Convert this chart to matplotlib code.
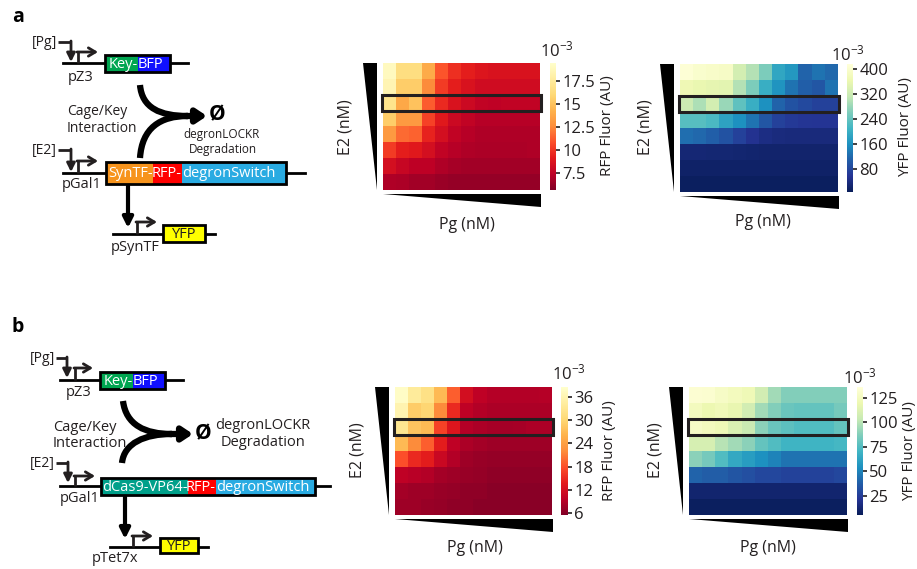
import matplotlib
matplotlib.use('Agg')
import matplotlib.pyplot as plt
import numpy as np
from matplotlib.patches import Rectangle, Polygon, PathPatch
from matplotlib.path import Path

plt.rcParams['font.family'] = ['Open Sans', 'DejaVu Sans']
plt.rcParams['mathtext.fontset'] = 'custom'
plt.rcParams['mathtext.rm'] = 'Open Sans'

W, H = 917, 569
INK = '#231f20'

# ---- heatmap data (rows: E2 high -> low, cols: Pg low -> high), units 1e3 AU
rfp_a = [
    [19.0, 16.5, 16.5, 14.0, 11.0, 9.8, 9.2, 8.8, 8.6, 8.6, 8.6, 8.6],
    [18.5, 15.5, 15.5, 12.5, 10.2, 9.2, 8.6, 8.2, 8.2, 8.2, 8.2, 8.2],
    [17.0, 13.8, 15.0, 11.2, 9.6, 8.6, 8.0, 7.6, 7.5, 7.6, 7.6, 7.6],
    [15.5, 13.2, 13.2, 10.4, 9.0, 8.0, 7.6, 7.2, 7.2, 7.2, 7.2, 7.2],
    [13.2, 11.6, 11.4, 9.4, 8.4, 7.6, 7.2, 7.0, 7.0, 7.0, 7.0, 7.0],
    [10.2, 9.2, 9.0, 8.4, 7.6, 7.2, 7.0, 6.9, 6.9, 6.9, 6.9, 7.0],
    [8.4, 7.8, 7.4, 7.4, 7.0, 6.7, 6.6, 6.6, 6.6, 6.6, 6.6, 6.6],
    [7.0, 6.9, 6.6, 6.6, 6.4, 6.2, 6.2, 6.2, 6.2, 6.2, 6.2, 6.2],
]
yfp_a = [
    [410, 400, 395, 390, 330, 300, 260, 190, 170, 115, 130, 120],
    [370, 360, 355, 350, 300, 260, 200, 165, 130, 110, 100, 130],
    [320, 295, 330, 280, 235, 200, 160, 115, 95, 85, 75, 75],
    [230, 230, 220, 185, 160, 130, 100, 75, 65, 60, 58, 58],
    [125, 120, 110, 95, 75, 55, 45, 40, 38, 38, 38, 38],
    [32, 32, 30, 30, 28, 27, 26, 26, 26, 26, 26, 26],
    [20, 20, 20, 20, 20, 20, 20, 20, 20, 20, 20, 20],
    [14, 14, 14, 14, 14, 14, 14, 14, 14, 14, 14, 14],
]
rfp_b = [
    [38.0, 34.0, 32.0, 27.0, 19.0, 12.0, 10.0, 9.2, 9.0, 9.0, 9.0, 9.2],
    [36.0, 29.0, 30.0, 22.0, 15.0, 10.0, 9.0, 8.6, 8.6, 8.6, 8.6, 8.6],
    [33.0, 28.0, 27.0, 17.0, 13.0, 9.2, 8.6, 8.2, 8.0, 8.2, 8.6, 8.6],
    [27.0, 22.0, 19.0, 14.0, 10.0, 8.6, 8.0, 7.6, 7.6, 7.6, 7.6, 7.6],
    [18.0, 15.0, 14.0, 11.0, 9.0, 7.6, 7.2, 7.0, 7.0, 7.0, 7.0, 7.0],
    [10.0, 9.5, 9.0, 8.0, 7.6, 7.2, 7.0, 6.6, 6.6, 6.6, 6.6, 6.6],
    [8.0, 7.6, 7.6, 7.2, 7.0, 6.6, 6.6, 6.2, 6.2, 6.2, 6.2, 6.2],
    [7.6, 7.6, 7.2, 7.0, 6.6, 6.6, 6.2, 6.2, 6.2, 6.2, 6.2, 6.2],
]
yfp_b = [
    [133, 132, 128, 125, 122, 108, 95, 88, 88, 88, 88, 88],
    [125, 120, 123, 118, 108, 95, 88, 82, 80, 80, 80, 85],
    [128, 125, 122, 112, 105, 90, 82, 78, 75, 75, 75, 80],
    [110, 110, 100, 95, 90, 80, 75, 70, 70, 70, 70, 72],
    [90, 85, 75, 65, 60, 55, 50, 45, 45, 45, 45, 45],
    [40, 38, 38, 35, 33, 30, 30, 28, 28, 28, 28, 30],
    [12, 12, 12, 12, 12, 12, 12, 12, 12, 12, 12, 12],
    [8, 8, 8, 8, 8, 8, 8, 8, 8, 8, 8, 8],
]

rfp_a_ticks = [7.5, 10, 12.5, 15, 17.5]
yfp_a_ticks = [80, 160, 240, 320, 400]
rfp_b_ticks = [6, 12, 18, 24, 30, 36]
yfp_b_ticks = [25, 50, 75, 100, 125]


fig = plt.figure(figsize=(W / 100, H / 100), dpi=100)


def px_axes(x0, y0, x1, y1):
    return fig.add_axes([x0 / W, 1 - y1 / H, (x1 - x0) / W, (y1 - y0) / H])


def heatmap(data, cmap, vmin, vmax, ticks, hm_box, cb_box):
    ax = px_axes(*hm_box)
    im = ax.imshow(np.array(data), cmap=cmap, vmin=vmin, vmax=vmax,
                   aspect='auto', interpolation='nearest')
    ax.set_xticks([])
    ax.set_yticks([])
    for s in ax.spines.values():
        s.set_visible(False)
    ax.add_patch(Rectangle((-0.55, 1.5), 12.1, 1.0, fill=False, lw=2.2,
                           ec=INK, clip_on=False))
    cax = px_axes(*cb_box)
    cb = fig.colorbar(im, cax=cax)
    cb.outline.set_visible(False)
    cb.set_ticks(ticks)
    cb.set_ticklabels([('%g' % t) for t in ticks])
    cax.tick_params(labelsize=12, length=3, width=1.2, pad=1.5, colors=INK)
    return ax


heatmap(rfp_a, 'YlOrRd_r', 5.6, 19.5, rfp_a_ticks, (383, 63, 540, 190), (550, 63, 556, 190))
heatmap(yfp_a, 'YlGnBu_r', 7, 415, yfp_a_ticks, (680, 64, 838, 192), (847, 64, 853, 192))
heatmap(rfp_b, 'YlOrRd_r', 5.5, 38.6, rfp_b_ticks, (395, 387, 552, 515), (561, 387, 568, 515))
heatmap(yfp_b, 'YlGnBu_r', 5.6, 136, yfp_b_ticks, (689, 387, 847, 515), (857, 387, 863, 515))

# ---- overlay for schematics and decorations (pixel coordinates)
ov = fig.add_axes([0, 0, 1, 1], facecolor='none')
ov.set_xlim(0, W)
ov.set_ylim(H, 0)
ov.axis('off')

# triangles beside heatmaps
for hx0, hy0, hx1, hy1 in [(383, 63, 540, 190), (680, 64, 838, 192),
                           (395, 387, 552, 515), (689, 387, 847, 515)]:
    ov.add_patch(Polygon([(hx0 - 20, hy0), (hx0 - 6, hy0), (hx0 - 6, hy1)],
                         closed=True, fc='k', ec='none'))
    ov.add_patch(Polygon([(hx0, hy1 + 4), (hx1 + 1, hy1 + 4), (hx1 + 1, hy1 + 17)],
                         closed=True, fc='k', ec='none'))

# axis labels
for x, y in [(345, 127), (646, 127), (358, 450), (655, 450)]:
    ov.text(x, y, 'E2 (nM)', rotation=90, ha='center', va='center', fontsize=11.5, color=INK)
for x, y in [(467, 225), (763, 222), (475, 548), (768, 548)]:
    ov.text(x, y, 'Pg (nM)', ha='center', va='center', fontsize=11.5, color=INK)
for x, y, lab in [(608, 126, 'RFP Fluor (AU)'), (906, 127, 'YFP Fluor (AU)'),
                  (609, 451, 'RFP Fluor (AU)'), (910, 451, 'YFP Fluor (AU)')]:
    ov.text(x, y, lab, rotation=90, ha='center', va='center', fontsize=11, color=INK)
for x, y in [(557, 50), (848, 54), (569, 373), (860, 377)]:
    ov.text(x, y, r'$\mathregular{10^{-3}}$', ha='center', va='center', fontsize=12, color=INK)


def inducer(label, lx, ly, x, y_line):
    ov.text(lx, ly, label, ha='right', va='center', fontsize=10, color=INK)
    ov.plot([lx + 1, x], [ly, ly], color=INK, lw=2, solid_capstyle='butt')
    ov.annotate('', xy=(x, y_line - 1), xytext=(x, ly - 1),
                arrowprops=dict(arrowstyle='-|>,head_length=0.5,head_width=0.25',
                                lw=2, color=INK, shrinkA=0, shrinkB=0))


def promoter(x, y_line, y_top, x_end):
    ov.plot([x, x], [y_line, y_top], color=INK, lw=2, solid_capstyle='butt')
    ov.annotate('', xy=(x_end, y_top), xytext=(x - 1, y_top),
                arrowprops=dict(arrowstyle='->,head_length=0.5,head_width=0.3',
                                lw=2, color=INK, shrinkA=0, shrinkB=0))


def gene_box(x0, y0, y1, parts, fs=10):
    # text of each segment butts against the next so the label reads continuously
    x = x0
    n = len(parts)
    for i, (x_end, fc, txt, tc) in enumerate(parts):
        ov.add_patch(Rectangle((x, y0), x_end - x, y1 - y0, fc=fc, ec='none', zorder=3))
        if n == 1:
            tx, ha = (x + x_end) / 2, 'center'
        elif i == n - 1:
            tx, ha = x, 'left'
        else:
            tx, ha = x_end, 'right'
        ov.text(tx, (y0 + y1) / 2 + 0.5, txt, ha=ha, va='center',
                fontsize=fs, color=tc, zorder=5)
        x = x_end
    ov.add_patch(Rectangle((x0, y0), x - x0, y1 - y0, fill=False, ec='k', lw=2, zorder=4))


def merge_arrow(top, bot, join, tip):
    for p in (top, bot):
        verts = [p[0], p[1], p[2], join]
        ov.add_patch(PathPatch(Path(verts, [Path.MOVETO, Path.CURVE4, Path.CURVE4, Path.CURVE4]),
                               fill=False, lw=4.5, ec='k', capstyle='butt'))
    ov.annotate('', xy=tip, xytext=(join[0] - 2, join[1]),
                arrowprops=dict(arrowstyle='-|>,head_length=0.6,head_width=0.4',
                                lw=4.5, color='k', shrinkA=0, shrinkB=0))


GREEN, BLUE = '#00a651', '#1010ff'
ORANGE, RED, SKY = '#f7941d', '#ff0000', '#29abe2'
TEAL, YELLOW = '#00a08a', '#ffff00'

# ---------------- panel a ----------------
ov.text(18, 17, 'a', fontsize=14, fontweight='bold', ha='center', va='center')
inducer('[Pg]', 57, 42, 71, 63)
ov.plot([63, 188], [63, 63], color='k', lw=2)
promoter(78, 63, 52, 98)
ov.text(81, 77, 'pZ3', ha='center', va='center', fontsize=10.5, color=INK)
gene_box(105, 55, 72, [(138, GREEN, 'Key-', 'w'), (170, BLUE, 'BFP', 'w')], fs=10.5)

merge_arrow([(140, 85), (142, 108), (160, 116)], [(140, 158), (142, 128), (160, 116)],
            (188, 116), (207, 116))
ov.text(217, 115, 'Ø', ha='center', va='center', fontsize=15, fontweight='bold')
ov.text(67, 111, 'Cage/Key', ha='left', va='center', fontsize=10, color=INK)
ov.text(67, 128, 'Interaction', ha='left', va='center', fontsize=10, color=INK)
ov.text(222, 134, 'degronLOCKR', ha='center', va='center', fontsize=8.5, color=INK)
ov.text(223, 149, 'Degradation', ha='center', va='center', fontsize=8.5, color=INK)

inducer('[E2]', 57, 150, 71, 173)
ov.plot([63, 305], [173, 173], color='k', lw=2)
promoter(78, 173, 161, 98)
ov.text(82, 184, 'pGal1', ha='center', va='center', fontsize=10.5, color=INK)
gene_box(106, 162, 184, [(153, ORANGE, 'SynTF-', 'w'), (182, RED, 'RFP-', 'w'),
                         (286, SKY, 'degronSwitch', 'w')], fs=10.5)
ov.annotate('', xy=(128, 228), xytext=(128, 186),
            arrowprops=dict(arrowstyle='-|>,head_length=0.6,head_width=0.3',
                            lw=3, color='k', shrinkA=0, shrinkB=0))
ov.plot([113, 215], [234, 234], color='k', lw=2)
promoter(137, 234, 222, 157)
ov.text(135, 247, 'pSynTF', ha='center', va='center', fontsize=10.5, color=INK)
gene_box(163, 225, 242, [(205, YELLOW, 'YFP', INK)], fs=10.5)

# ---------------- panel b ----------------
ov.text(18, 327, 'b', fontsize=14, fontweight='bold', ha='center', va='center')
inducer('[Pg]', 55, 358, 67, 379)
ov.plot([60, 183], [380, 380], color='k', lw=2)
promoter(75, 380, 368, 93)
ov.text(79, 392, 'pZ3', ha='center', va='center', fontsize=10.5, color=INK)
gene_box(100, 372, 389, [(133, GREEN, 'Key-', 'w'), (165, BLUE, 'BFP', 'w')], fs=10.5)

merge_arrow([(123, 401), (126, 425), (145, 434)], [(122, 463), (124, 443), (145, 434)],
            (172, 434), (193, 434))
ov.text(203, 434, 'Ø', ha='center', va='center', fontsize=15, fontweight='bold')
ov.text(53, 427, 'Cage/Key', ha='left', va='center', fontsize=10.5, color=INK)
ov.text(53, 443, 'Interaction', ha='left', va='center', fontsize=10.5, color=INK)
ov.text(263, 425, 'degronLOCKR', ha='center', va='center', fontsize=10.5, color=INK)
ov.text(263, 442, 'Degradation', ha='center', va='center', fontsize=10.5, color=INK)

inducer('[E2]', 55, 463, 68, 484)
ov.plot([60, 330], [486, 486], color='k', lw=2)
promoter(75, 486, 476, 95)
ov.text(80, 498, 'pGal1', ha='center', va='center', fontsize=10.5, color=INK)
gene_box(101, 478, 495, [(188, TEAL, 'dCas9-VP64-', 'w'), (216, RED, 'RFP-', 'w'),
                         (315, SKY, 'degronSwitch', 'w')], fs=10.5)
ov.annotate('', xy=(125, 539), xytext=(125, 497),
            arrowprops=dict(arrowstyle='-|>,head_length=0.6,head_width=0.3',
                            lw=3, color='k', shrinkA=0, shrinkB=0))
ov.plot([110, 208], [547, 547], color='k', lw=2)
promoter(133, 547, 536, 153)
ov.text(115, 558, 'pTet7x', ha='center', va='center', fontsize=10.5, color=INK)
gene_box(160, 538, 553, [(198, YELLOW, 'YFP', INK)], fs=10.5)

fig.savefig('out.png', dpi=100)
